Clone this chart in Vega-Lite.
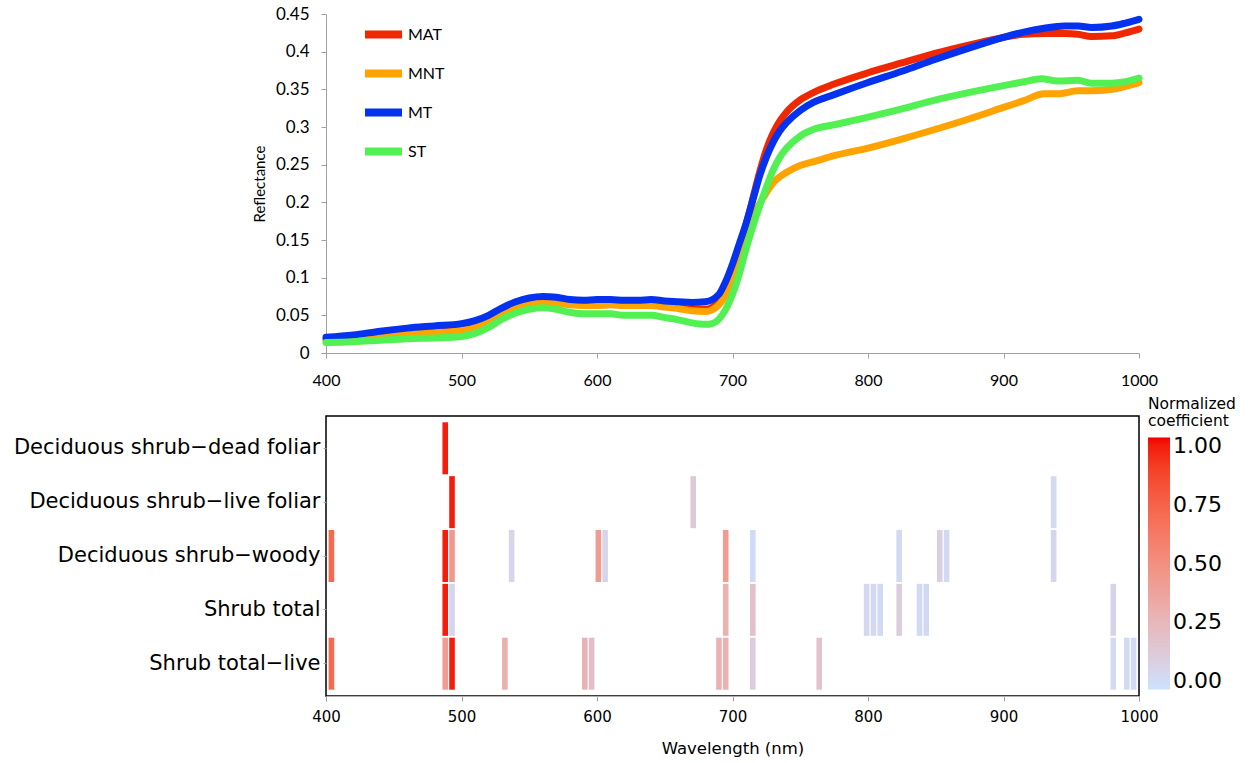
{
  "$schema": "https://vega.github.io/schema/vega-lite/v6.json",
  "padding": {"left": 12, "top": 5, "right": 0, "bottom": 0},
  "background": "white",
  "config": {"view": {"stroke": null}},
  "spacing": 8,
  "datasets": {
    "spec": [
      {"wl":400,"refl":0.018,"type":"MAT"},{"wl":420,"refl":0.020,"type":"MAT"},{"wl":440,"refl":0.023,"type":"MAT"},{"wl":460,"refl":0.026,"type":"MAT"},{"wl":480,"refl":0.028,"type":"MAT"},{"wl":500,"refl":0.031,"type":"MAT"},{"wl":510,"refl":0.035,"type":"MAT"},{"wl":520,"refl":0.043,"type":"MAT"},{"wl":530,"refl":0.054,"type":"MAT"},{"wl":540,"refl":0.062,"type":"MAT"},{"wl":550,"refl":0.067,"type":"MAT"},{"wl":560,"refl":0.069,"type":"MAT"},{"wl":570,"refl":0.068,"type":"MAT"},{"wl":580,"refl":0.066,"type":"MAT"},{"wl":590,"refl":0.065,"type":"MAT"},{"wl":600,"refl":0.065,"type":"MAT"},{"wl":610,"refl":0.066,"type":"MAT"},{"wl":620,"refl":0.065,"type":"MAT"},{"wl":630,"refl":0.065,"type":"MAT"},{"wl":640,"refl":0.066,"type":"MAT"},{"wl":650,"refl":0.063,"type":"MAT"},{"wl":660,"refl":0.061,"type":"MAT"},{"wl":670,"refl":0.058,"type":"MAT"},{"wl":680,"refl":0.058,"type":"MAT"},{"wl":690,"refl":0.068,"type":"MAT"},{"wl":695,"refl":0.085,"type":"MAT"},{"wl":700,"refl":0.108,"type":"MAT"},{"wl":705,"refl":0.140,"type":"MAT"},{"wl":710,"refl":0.170,"type":"MAT"},{"wl":715,"refl":0.205,"type":"MAT"},{"wl":720,"refl":0.240,"type":"MAT"},{"wl":725,"refl":0.270,"type":"MAT"},{"wl":730,"refl":0.292,"type":"MAT"},{"wl":735,"refl":0.308,"type":"MAT"},{"wl":740,"refl":0.320,"type":"MAT"},{"wl":750,"refl":0.336,"type":"MAT"},{"wl":760,"refl":0.346,"type":"MAT"},{"wl":775,"refl":0.357,"type":"MAT"},{"wl":800,"refl":0.372,"type":"MAT"},{"wl":825,"refl":0.385,"type":"MAT"},{"wl":850,"refl":0.398,"type":"MAT"},{"wl":875,"refl":0.409,"type":"MAT"},{"wl":900,"refl":0.419,"type":"MAT"},{"wl":915,"refl":0.423,"type":"MAT"},{"wl":930,"refl":0.424,"type":"MAT"},{"wl":945,"refl":0.424,"type":"MAT"},{"wl":955,"refl":0.423,"type":"MAT"},{"wl":965,"refl":0.420,"type":"MAT"},{"wl":980,"refl":0.421,"type":"MAT"},{"wl":990,"refl":0.425,"type":"MAT"},{"wl":1000,"refl":0.430,"type":"MAT"},
      {"wl":400,"refl":0.017,"type":"MNT"},{"wl":420,"refl":0.019,"type":"MNT"},{"wl":440,"refl":0.022,"type":"MNT"},{"wl":460,"refl":0.025,"type":"MNT"},{"wl":480,"refl":0.027,"type":"MNT"},{"wl":500,"refl":0.030,"type":"MNT"},{"wl":510,"refl":0.034,"type":"MNT"},{"wl":520,"refl":0.042,"type":"MNT"},{"wl":530,"refl":0.053,"type":"MNT"},{"wl":540,"refl":0.061,"type":"MNT"},{"wl":550,"refl":0.066,"type":"MNT"},{"wl":560,"refl":0.067,"type":"MNT"},{"wl":570,"refl":0.066,"type":"MNT"},{"wl":580,"refl":0.064,"type":"MNT"},{"wl":590,"refl":0.063,"type":"MNT"},{"wl":600,"refl":0.063,"type":"MNT"},{"wl":610,"refl":0.064,"type":"MNT"},{"wl":620,"refl":0.063,"type":"MNT"},{"wl":630,"refl":0.063,"type":"MNT"},{"wl":640,"refl":0.063,"type":"MNT"},{"wl":650,"refl":0.061,"type":"MNT"},{"wl":660,"refl":0.059,"type":"MNT"},{"wl":670,"refl":0.056,"type":"MNT"},{"wl":680,"refl":0.055,"type":"MNT"},{"wl":690,"refl":0.064,"type":"MNT"},{"wl":695,"refl":0.078,"type":"MNT"},{"wl":700,"refl":0.100,"type":"MNT"},{"wl":705,"refl":0.130,"type":"MNT"},{"wl":710,"refl":0.158,"type":"MNT"},{"wl":715,"refl":0.180,"type":"MNT"},{"wl":720,"refl":0.198,"type":"MNT"},{"wl":725,"refl":0.213,"type":"MNT"},{"wl":730,"refl":0.226,"type":"MNT"},{"wl":735,"refl":0.234,"type":"MNT"},{"wl":740,"refl":0.240,"type":"MNT"},{"wl":750,"refl":0.249,"type":"MNT"},{"wl":760,"refl":0.254,"type":"MNT"},{"wl":775,"refl":0.262,"type":"MNT"},{"wl":800,"refl":0.272,"type":"MNT"},{"wl":825,"refl":0.284,"type":"MNT"},{"wl":850,"refl":0.297,"type":"MNT"},{"wl":875,"refl":0.311,"type":"MNT"},{"wl":900,"refl":0.326,"type":"MNT"},{"wl":915,"refl":0.335,"type":"MNT"},{"wl":930,"refl":0.344,"type":"MNT"},{"wl":940,"refl":0.344,"type":"MNT"},{"wl":955,"refl":0.348,"type":"MNT"},{"wl":965,"refl":0.348,"type":"MNT"},{"wl":980,"refl":0.350,"type":"MNT"},{"wl":990,"refl":0.354,"type":"MNT"},{"wl":1000,"refl":0.359,"type":"MNT"},
      {"wl":400,"refl":0.021,"type":"MT"},{"wl":420,"refl":0.024,"type":"MT"},{"wl":440,"refl":0.029,"type":"MT"},{"wl":460,"refl":0.033,"type":"MT"},{"wl":480,"refl":0.036,"type":"MT"},{"wl":500,"refl":0.039,"type":"MT"},{"wl":510,"refl":0.043,"type":"MT"},{"wl":520,"refl":0.050,"type":"MT"},{"wl":530,"refl":0.060,"type":"MT"},{"wl":540,"refl":0.068,"type":"MT"},{"wl":550,"refl":0.073,"type":"MT"},{"wl":560,"refl":0.075,"type":"MT"},{"wl":570,"refl":0.074,"type":"MT"},{"wl":580,"refl":0.071,"type":"MT"},{"wl":590,"refl":0.070,"type":"MT"},{"wl":600,"refl":0.071,"type":"MT"},{"wl":610,"refl":0.071,"type":"MT"},{"wl":620,"refl":0.070,"type":"MT"},{"wl":630,"refl":0.070,"type":"MT"},{"wl":640,"refl":0.071,"type":"MT"},{"wl":650,"refl":0.069,"type":"MT"},{"wl":660,"refl":0.068,"type":"MT"},{"wl":670,"refl":0.067,"type":"MT"},{"wl":680,"refl":0.068,"type":"MT"},{"wl":690,"refl":0.078,"type":"MT"},{"wl":695,"refl":0.095,"type":"MT"},{"wl":700,"refl":0.118,"type":"MT"},{"wl":705,"refl":0.145,"type":"MT"},{"wl":710,"refl":0.172,"type":"MT"},{"wl":715,"refl":0.203,"type":"MT"},{"wl":720,"refl":0.235,"type":"MT"},{"wl":725,"refl":0.260,"type":"MT"},{"wl":730,"refl":0.280,"type":"MT"},{"wl":735,"refl":0.295,"type":"MT"},{"wl":740,"refl":0.306,"type":"MT"},{"wl":750,"refl":0.322,"type":"MT"},{"wl":760,"refl":0.333,"type":"MT"},{"wl":775,"refl":0.343,"type":"MT"},{"wl":800,"refl":0.359,"type":"MT"},{"wl":825,"refl":0.374,"type":"MT"},{"wl":850,"refl":0.390,"type":"MT"},{"wl":875,"refl":0.405,"type":"MT"},{"wl":900,"refl":0.419,"type":"MT"},{"wl":915,"refl":0.426,"type":"MT"},{"wl":930,"refl":0.431,"type":"MT"},{"wl":945,"refl":0.434,"type":"MT"},{"wl":955,"refl":0.434,"type":"MT"},{"wl":965,"refl":0.432,"type":"MT"},{"wl":980,"refl":0.434,"type":"MT"},{"wl":990,"refl":0.438,"type":"MT"},{"wl":1000,"refl":0.443,"type":"MT"},
      {"wl":400,"refl":0.014,"type":"ST"},{"wl":420,"refl":0.015,"type":"ST"},{"wl":440,"refl":0.017,"type":"ST"},{"wl":460,"refl":0.019,"type":"ST"},{"wl":480,"refl":0.020,"type":"ST"},{"wl":500,"refl":0.022,"type":"ST"},{"wl":510,"refl":0.026,"type":"ST"},{"wl":520,"refl":0.034,"type":"ST"},{"wl":530,"refl":0.045,"type":"ST"},{"wl":540,"refl":0.053,"type":"ST"},{"wl":550,"refl":0.058,"type":"ST"},{"wl":560,"refl":0.060,"type":"ST"},{"wl":570,"refl":0.058,"type":"ST"},{"wl":580,"refl":0.054,"type":"ST"},{"wl":590,"refl":0.052,"type":"ST"},{"wl":600,"refl":0.052,"type":"ST"},{"wl":610,"refl":0.052,"type":"ST"},{"wl":620,"refl":0.050,"type":"ST"},{"wl":630,"refl":0.050,"type":"ST"},{"wl":640,"refl":0.050,"type":"ST"},{"wl":650,"refl":0.047,"type":"ST"},{"wl":660,"refl":0.044,"type":"ST"},{"wl":670,"refl":0.040,"type":"ST"},{"wl":680,"refl":0.038,"type":"ST"},{"wl":685,"refl":0.039,"type":"ST"},{"wl":690,"refl":0.045,"type":"ST"},{"wl":695,"refl":0.058,"type":"ST"},{"wl":700,"refl":0.078,"type":"ST"},{"wl":705,"refl":0.105,"type":"ST"},{"wl":710,"refl":0.138,"type":"ST"},{"wl":715,"refl":0.168,"type":"ST"},{"wl":720,"refl":0.195,"type":"ST"},{"wl":725,"refl":0.220,"type":"ST"},{"wl":730,"refl":0.243,"type":"ST"},{"wl":735,"refl":0.260,"type":"ST"},{"wl":740,"refl":0.272,"type":"ST"},{"wl":750,"refl":0.288,"type":"ST"},{"wl":760,"refl":0.297,"type":"ST"},{"wl":775,"refl":0.303,"type":"ST"},{"wl":800,"refl":0.313,"type":"ST"},{"wl":825,"refl":0.324,"type":"ST"},{"wl":850,"refl":0.336,"type":"ST"},{"wl":875,"refl":0.346,"type":"ST"},{"wl":900,"refl":0.355,"type":"ST"},{"wl":915,"refl":0.360,"type":"ST"},{"wl":928,"refl":0.364,"type":"ST"},{"wl":940,"refl":0.361,"type":"ST"},{"wl":955,"refl":0.362,"type":"ST"},{"wl":965,"refl":0.358,"type":"ST"},{"wl":980,"refl":0.358,"type":"ST"},{"wl":990,"refl":0.360,"type":"ST"},{"wl":1000,"refl":0.365,"type":"ST"}
    ],
    "coef": [
      {"var":"Deciduous shrub−dead foliar","wl":488,"coef":1.0},
      {"var":"Deciduous shrub−live foliar","wl":493,"coef":1.0},
      {"var":"Deciduous shrub−live foliar","wl":671,"coef":0.13},
      {"var":"Deciduous shrub−live foliar","wl":937,"coef":0.02},
      {"var":"Deciduous shrub−woody","wl":404,"coef":0.72},
      {"var":"Deciduous shrub−woody","wl":488,"coef":1.0},
      {"var":"Deciduous shrub−woody","wl":493,"coef":0.45},
      {"var":"Deciduous shrub−woody","wl":537,"coef":0.05},
      {"var":"Deciduous shrub−woody","wl":601,"coef":0.42},
      {"var":"Deciduous shrub−woody","wl":606,"coef":0.05},
      {"var":"Deciduous shrub−woody","wl":695,"coef":0.42},
      {"var":"Deciduous shrub−woody","wl":715,"coef":0.0},
      {"var":"Deciduous shrub−woody","wl":823,"coef":0.02},
      {"var":"Deciduous shrub−woody","wl":853,"coef":0.08},
      {"var":"Deciduous shrub−woody","wl":858,"coef":0.02},
      {"var":"Deciduous shrub−woody","wl":937,"coef":0.04},
      {"var":"Shrub total","wl":488,"coef":1.0},
      {"var":"Shrub total","wl":493,"coef":0.04},
      {"var":"Shrub total","wl":695,"coef":0.28},
      {"var":"Shrub total","wl":715,"coef":0.18},
      {"var":"Shrub total","wl":799,"coef":0.03},
      {"var":"Shrub total","wl":804,"coef":0.02},
      {"var":"Shrub total","wl":809,"coef":0.02},
      {"var":"Shrub total","wl":823,"coef":0.1},
      {"var":"Shrub total","wl":838,"coef":0.02},
      {"var":"Shrub total","wl":843,"coef":0.02},
      {"var":"Shrub total","wl":981,"coef":0.06},
      {"var":"Shrub total−live","wl":404,"coef":0.72},
      {"var":"Shrub total−live","wl":488,"coef":0.42},
      {"var":"Shrub total−live","wl":493,"coef":1.0},
      {"var":"Shrub total−live","wl":532,"coef":0.3},
      {"var":"Shrub total−live","wl":591,"coef":0.27},
      {"var":"Shrub total−live","wl":596,"coef":0.2},
      {"var":"Shrub total−live","wl":690,"coef":0.28},
      {"var":"Shrub total−live","wl":695,"coef":0.28},
      {"var":"Shrub total−live","wl":715,"coef":0.1},
      {"var":"Shrub total−live","wl":764,"coef":0.17},
      {"var":"Shrub total−live","wl":981,"coef":0.01},
      {"var":"Shrub total−live","wl":991,"coef":0.01},
      {"var":"Shrub total−live","wl":996,"coef":0.0}
    ]
  },
  "resolve": {"scale": {"color": "independent", "x": "independent"}},
  "vconcat": [
    {
      "width": 813,
      "height": 339,
      "data": {"name": "spec"},
      "mark": {"type": "line", "strokeWidth": 7, "interpolate": "monotone", "strokeCap": "round"},
      "encoding": {
        "x": {"field": "wl", "type": "quantitative",
              "scale": {"domain": [400, 1000], "nice": false},
              "axis": {"values": [400,500,600,700,800,900,1000], "format": "d", "title": null, "grid": false,
                       "labelFlush": false, "labelOverlap": false,
                       "domainColor": "#a0a0a0", "tickColor": "#a0a0a0", "tickSize": 5,
                       "labelFont": "Lato", "labelFontSize": 16, "labelColor": "black", "labelPadding": 14}},
        "y": {"field": "refl", "type": "quantitative",
              "scale": {"domain": [0, 0.45], "nice": false},
              "axis": {"values": [0,0.05,0.1,0.15,0.2,0.25,0.3,0.35,0.4,0.45], "format": "~g", "title": "Reflectance", "grid": false,
                       "labelFlush": false, "labelOverlap": false,
                       "domainColor": "#a0a0a0", "tickColor": "#a0a0a0", "tickSize": 5,
                       "labelFont": "Lato", "labelFontSize": 17, "labelColor": "black", "labelPadding": 12,
                       "titleFont": "Lato", "titleFontSize": 15, "titleFontWeight": "normal", "titleColor": "black", "titlePadding": 8}},
        "color": {"field": "type", "type": "nominal",
                  "scale": {"domain": ["MAT","MNT","MT","ST"], "range": ["#f02800","#ffa300","#0432ee","#52f052"]},
                  "legend": {"orient": "none", "legendX": 35, "legendY": -2, "title": null,
                             "symbolType": "stroke", "symbolSize": 1369, "symbolStrokeWidth": 8,
                             "labelFont": "Lato", "labelFontSize": 16, "labelColor": "black", "labelOffset": 2,
                             "rowPadding": 0}}
      }
    },
    {
      "width": 813,
      "height": 280,
      "view": {"stroke": "black", "strokeWidth": 1.5},
      "data": {"name": "coef"},
      "mark": {"type": "tick", "thickness": 5.6, "size": 52, "orient": "vertical", "opacity": 1},
      "encoding": {
        "x": {"field": "wl", "type": "quantitative",
              "scale": {"domain": [400, 1000], "nice": false},
              "axis": {"values": [400,500,600,700,800,900,1000], "format": "d", "title": "Wavelength (nm)", "grid": false,
                       "labelFlush": false, "labelOverlap": false,
                       "domainColor": "#b0b0b0", "tickColor": "#a0a0a0", "tickSize": 5,
                       "labelFont": "DejaVu Sans", "labelFontSize": 15, "labelColor": "black", "labelPadding": 8,
                       "titleFont": "DejaVu Sans", "titleFontSize": 16.5, "titleFontWeight": "normal", "titleColor": "black", "titlePadding": 16}},
        "y": {"field": "var", "type": "nominal",
              "sort": ["Deciduous shrub−dead foliar","Deciduous shrub−live foliar","Deciduous shrub−woody","Shrub total","Shrub total−live"],
              "scale": {"paddingInner": 0, "paddingOuter": 0.1},
              "axis": {"title": null, "domain": false, "tickColor": "#a0a0a0", "tickSize": 3,
                       "labelFont": "DejaVu Sans", "labelFontSize": 21, "labelColor": "black", "labelPadding": 3, "labelLimit": 400}},
        "color": {"field": "coef", "type": "quantitative",
                  "scale": {"domain": [-0.034, 1.034], "range": ["#cce1ff", "#f20000"], "interpolate": "lab"},
                  "legend": {"orient": "none", "legendX": 822, "legendY": -19, "title": ["Normalized", "coefficient"],
                             "values": [0, 0.25, 0.5, 0.75, 1], "format": ".2f",
                             "gradientLength": 252, "gradientThickness": 22,
                             "titleFont": "DejaVu Sans", "titleFontSize": 15.5, "titleFontWeight": "normal", "titleColor": "black", "titleLineHeight": 17, "titlePadding": 8,
                             "labelFont": "DejaVu Sans", "labelFontSize": 22, "labelColor": "black", "labelOffset": 3}}
      }
    }
  ]
}
